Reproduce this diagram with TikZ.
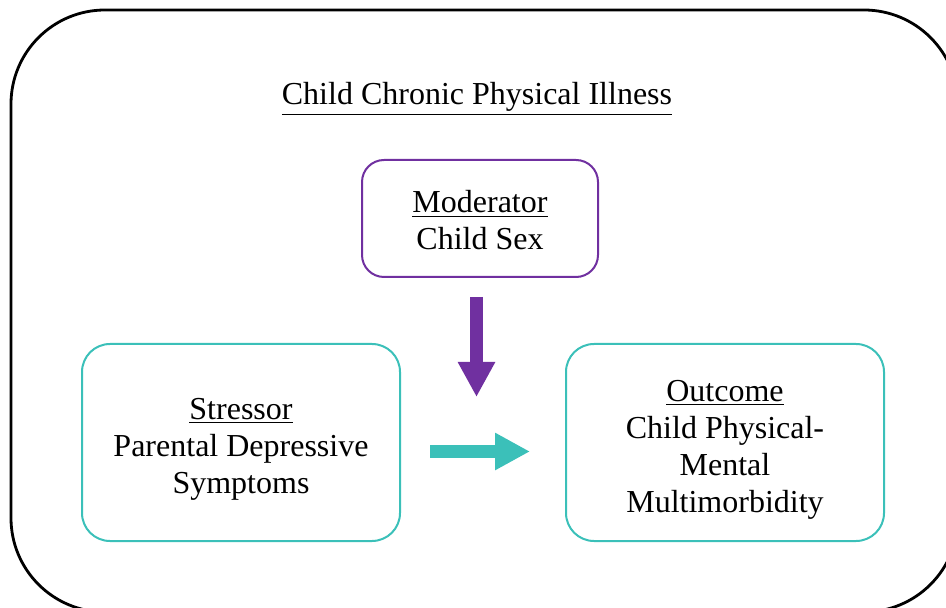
\documentclass[tikz,border=0pt]{standalone}
\usepackage{xcolor}
\usepackage{fontspec}
\setmainfont{Liberation Serif}
\usepackage{tikz}
\usetikzlibrary{arrows.meta,positioning}

\definecolor{modpurple}{RGB}{112,48,160}
\definecolor{stressteal}{RGB}{59,192,185}

\newcommand{\topstrut}[1]{\rule{0pt}{#1}}

\begin{document}
\begin{tikzpicture}[x=0.5pt,y=-0.5pt,
    box/.style={draw,line width=1pt,rounded corners=14pt,align=center,
      font=\fontsize{16}{18.5}\selectfont,inner sep=0pt,text depth=0pt},
    blockarrow/.style={line width=6.5pt,-{Triangle[length=17.5pt,width=17.5pt]}}]
      \clip (0,0) rectangle (946,608);
      \draw[line width=1.4pt,rounded corners=47pt] (11,10) rectangle (958,612);

      \node[anchor=base] (title) at (477,105)
            {\fontsize{16}{18.5}\selectfont\underline{Child Chronic Physical Illness}};
      \node[box,draw=modpurple,minimum width=118pt,minimum height=58.5pt,rounded corners=11pt]
            (M) at (480,218.5) {\topstrut{13pt}\underline{Moderator}\\Child Sex};
      \node[box,draw=stressteal,minimum width=159pt,minimum height=98.5pt]
            (S) at (241,442.5) {\topstrut{14pt}\underline{Stressor}\\Parental Depressive\\Symptoms};
      \node[box,draw=stressteal,minimum width=159pt,minimum height=98.5pt]
            (O) at (725,442.5) {\topstrut{14pt}\underline{Outcome}\\Child Physical-\\Mental\\Multimorbidity};

      \coordinate (Mfrom) at (476.5,297);
      \coordinate (Mto)   at (476.5,397);
      \coordinate (Sfrom) at (430,451.5);
      \coordinate (Sto)   at (530,451.5);

      \draw[blockarrow,modpurple]  (Mfrom) -- (Mto);
      \draw[blockarrow,stressteal] (Sfrom) -- (Sto);
\end{tikzpicture}
\end{document}
